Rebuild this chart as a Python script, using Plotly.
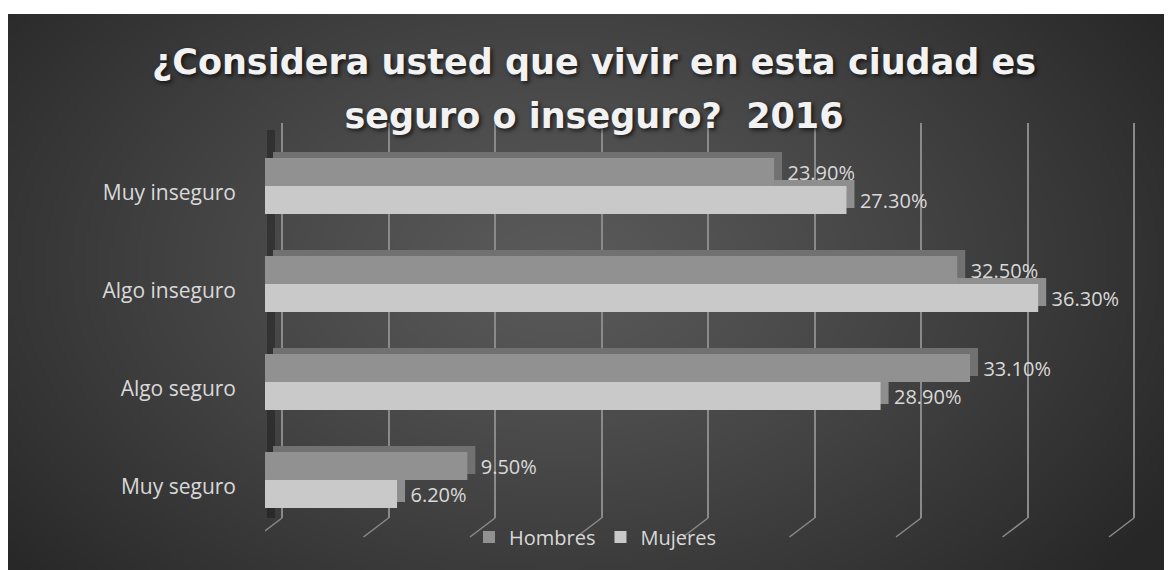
import base64, struct, zlib, math
import plotly.graph_objects as go

# ---------------- data ----------------
categories = ["Muy seguro", "Algo seguro", "Algo inseguro", "Muy inseguro"]
hombres = [9.5, 33.1, 32.5, 23.9]
mujeres = [6.2, 28.9, 36.3, 27.3]
grid_ticks = [0, 5, 10, 15, 20, 25, 30, 35, 40]
title_lines = ["¿Considera usted que vivir en esta ciudad es", "seguro o inseguro?\u00a0\u00a02016"]

# ---------------- geometry (pixels, in page coordinates of the reference) ----------------
OFF = 8                      # page body margin
W, H = 1172 - OFF, 570 - OFF
PXU = 21.3                   # pixels per percentage point
X0, X1 = 265 - OFF, 1140 - OFF
Y_TOP, Y_BOT = 123 - OFF, 518 - OFF
TOPCAT_Y, BOTCAT_Y = 186 - OFF, 480 - OFF
CAT_PX = (BOTCAT_Y - TOPCAT_Y) / 3.0
DEPTH_DX, DEPTH_DY = 8, 6
GRID_DX = 17

span = (X1 - X0) / PXU
xr_front = [0, span]
xr_depth = [-DEPTH_DX / PXU, span - DEPTH_DX / PXU]
xr_grid = [-GRID_DX / PXU, span - GRID_DX / PXU]
yr_front = [-(Y_BOT - BOTCAT_Y) / CAT_PX, 3 + (TOPCAT_Y - Y_TOP) / CAT_PX]
yr_depth = [yr_front[0] - DEPTH_DY / CAT_PX, yr_front[1] - DEPTH_DY / CAT_PX]
xdom = [X0 / W, X1 / W]
ydom = [(H - Y_BOT) / H, (H - Y_TOP) / H]


# ---------------- background gradient image ----------------
def make_png(w, h):
    cx, cy = 0.47 * w, 0.45 * h
    rows = []
    for j in range(h):
        row = bytearray([0])
        for i in range(w):
            d = math.sqrt(((i - cx) / (0.62 * w)) ** 2 + ((j - cy) / (0.85 * h)) ** 2)
            d = min(d, 1.0)
            v = int(round(0x5a - (0x5a - 0x27) * d ** 1.15))
            row.append(v)
        rows.append(bytes(row))
    raw = b"".join(rows)

    def chunk(t, data):
        c = struct.pack(">I", len(data)) + t + data
        return c + struct.pack(">I", zlib.crc32(t + data) & 0xFFFFFFFF)

    png = b"\x89PNG\r\n\x1a\n"
    png += chunk(b"IHDR", struct.pack(">IIBBBBB", w, h, 8, 0, 0, 0, 0))
    png += chunk(b"IDAT", zlib.compress(raw, 9))
    png += chunk(b"IEND", b"")
    return "data:image/png;base64," + base64.b64encode(png).decode()


bg_src = make_png(292, 139)
BG_TOP = 14 - OFF

FONT = "Open Sans"
TXT = "#d9d9d9"

fig = go.Figure()

# depth (3D top/side faces) on the main subplot, drawn first
fig.add_trace(go.Bar(y=categories, x=mujeres, orientation="h", xaxis="x", yaxis="y",
                     marker=dict(color="#8e8e8e", line=dict(width=0)), showlegend=False,
                     hoverinfo="skip"))
fig.add_trace(go.Bar(y=categories, x=hombres, orientation="h", xaxis="x", yaxis="y",
                     marker=dict(color="#717171", line=dict(width=0)), showlegend=False,
                     hoverinfo="skip"))
# front faces on the overlay subplot, drawn on top
lbl = "\u00a0\u00a0%{x:.2f}%"
fig.add_trace(go.Bar(name="Mujeres", y=categories, x=mujeres, orientation="h",
                     xaxis="x2", yaxis="y2",
                     marker=dict(color="#c9c9c9", line=dict(width=0)),
                     texttemplate=lbl, textposition="outside", constraintext="none",
                     cliponaxis=False, textfont=dict(family=FONT, size=20, color=TXT),
                     legendrank=2))
fig.add_trace(go.Bar(name="Hombres", y=categories, x=hombres, orientation="h",
                     xaxis="x2", yaxis="y2",
                     marker=dict(color="#919191", line=dict(width=0)),
                     texttemplate=lbl, textposition="outside", constraintext="none",
                     cliponaxis=False, textfont=dict(family=FONT, size=20, color=TXT),
                     legendrank=1))

shapes = []
# left wall shadow
shapes.append(dict(type="rect", xref="x2", xsizemode="pixel", xanchor=0, x0=2, x1=10,
                   yref="paper", y0=ydom[0], y1=(H - (130 - OFF)) / H,
                   fillcolor="rgba(0,0,0,0.28)", line=dict(width=0), layer="below"))
# floor feet of gridlines
for v in grid_ticks:
    shapes.append(dict(type="line", xref="x3", xsizemode="pixel", xanchor=v, x0=0, x1=-25,
                       yref="paper", ysizemode="pixel", yanchor=ydom[0], y0=0, y1=-19,
                       line=dict(color="#8a8a8a", width=1.5), layer="below"))

title_text = "<br>".join('<span style="font-size:35px">%s</span>' % t for t in title_lines)

fig.update_layout(
    width=W, height=H,
    margin=dict(l=0, r=0, t=0, b=0),
    paper_bgcolor="white",
    plot_bgcolor="rgba(0,0,0,0)",
    barmode="group", bargap=0.4286, bargroupgap=0,
    images=[dict(source=bg_src, xref="paper", yref="paper", x=0, y=1 - BG_TOP / H,
                 sizex=1, sizey=(H - BG_TOP) / H, sizing="stretch",
                 xanchor="left", yanchor="top", layer="below")],
    title=dict(text=title_text, x=(594 - OFF) / W, xanchor="center",
               y=1 - (74 - OFF) / H, yanchor="middle",
               font=dict(family="DejaVu Sans", size=41.5, color="#f2f2f2", weight="bold",
                         shadow="2px 2px 4px rgba(0,0,0,0.7)")),
    xaxis=dict(domain=xdom, range=xr_depth, showgrid=False, zeroline=False,
               showticklabels=False, showline=False),
    yaxis=dict(domain=ydom, type="category", categoryarray=categories, range=yr_depth,
               showgrid=False, zeroline=False, showline=False, showticklabels=False, ticks=""),
    xaxis2=dict(overlaying="x", anchor="y2", range=xr_front, showgrid=False, zeroline=False,
                showticklabels=False, showline=False),
    yaxis2=dict(overlaying="y", anchor="x2", side="left", type="category",
                categoryarray=categories, range=yr_front,
                showgrid=False, zeroline=False, showline=False, ticks="",
                tickfont=dict(family=FONT, size=21, color=TXT),
                ticklabelstandoff=28, ticklabelshift=7),
    xaxis3=dict(overlaying="x", anchor="y", range=xr_grid, showgrid=True, zeroline=False,
                tickvals=grid_ticks, showticklabels=False, showline=False, ticks="",
                gridcolor="#8a8a8a", gridwidth=1.5),
    legend=dict(orientation="h", x=(595 - OFF) / W, xanchor="center", y=(H - (537 - OFF)) / H,
                yanchor="middle", font=dict(family=FONT, size=20, color=TXT),
                bgcolor="rgba(0,0,0,0)"),
    shapes=shapes,
)

fig.write_html("out.html")
